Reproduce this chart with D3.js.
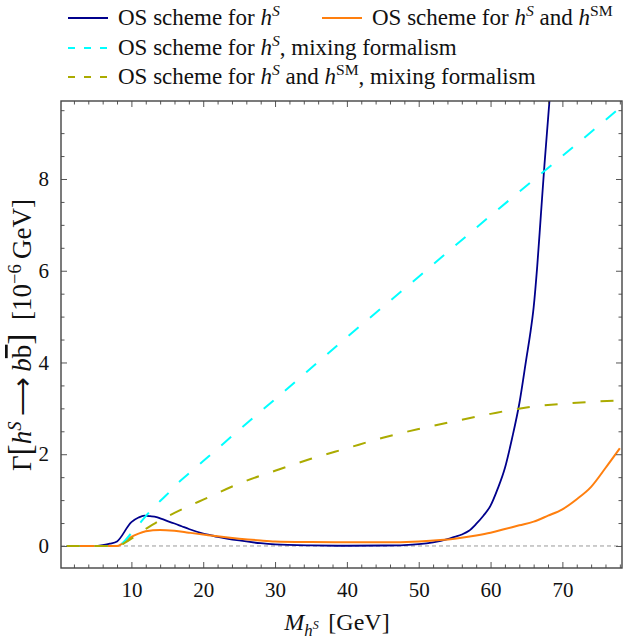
<!DOCTYPE html>
<html><head><meta charset="utf-8">
<script src="https://cdn.jsdelivr.net/npm/d3@7"></script>
<style>body{margin:0;background:#fff}</style>
</head><body>
<svg id="c" width="625" height="639"></svg>
<script>
// ---- data ----
const xTicks = [10, 20, 30, 40, 50, 60, 70];
const yTicks = [0, 2, 4, 6, 8];

const massBlue  = [1,3,5,6,7,8,10,11,11.8,12.6,13.5,14,16,17,18,20,21,22,25,28,30,35,40,45,48,50,52,54,55,56,57,58,59,60,61,62,63,64,65,65.5,66,66.5,67,67.5,68,68.5];
const gammaBlue = [0,0,0,0.02,0.05,0.1,0.52,0.62,0.66,0.65,0.63,0.6,0.49,0.43,0.37,0.27,0.235,0.2,0.12,0.06,0.035,0.012,0.005,0.01,0.02,0.04,0.08,0.15,0.2,0.25,0.33,0.48,0.66,0.88,1.25,1.7,2.35,3.1,4.1,4.6,5.2,6.1,7.2,8.3,9.3,10.3];

const massOrange  = [1,5,8,8.5,9,10,11,12,13,14,16,18,20,22,25,28,30,35,40,45,50,53,55,58,60,62,64,66,68,70,72,74,76,78];
const gammaOrange = [0,0,0,0.03,0.09,0.2,0.27,0.32,0.345,0.35,0.33,0.29,0.25,0.21,0.16,0.12,0.1,0.085,0.08,0.08,0.1,0.13,0.16,0.23,0.29,0.37,0.45,0.53,0.66,0.8,1.02,1.29,1.7,2.13];

const massCyan  = [1,8.2,9,10,11,12,13,14,15,16,18,20,25,30,40,50,60,70,78];
const gammaCyan = [0,0,0.1,0.28,0.46,0.65,0.82,0.98,1.13,1.3,1.58,1.85,2.53,3.2,4.55,5.87,7.2,8.5,9.55];

const massOlive  = [1,8.3,9,10,11,12,14,16,18,20,25,30,35,40,45,50,55,60,65,70,75,78];
const gammaOlive = [0,0,0.06,0.16,0.27,0.37,0.56,0.72,0.87,1.01,1.36,1.64,1.9,2.13,2.36,2.55,2.72,2.88,3.02,3.1,3.15,3.17];

const FONT = '"Liberation Serif"';

// ---- chart ----
const svg = d3.select("#c");
const L = 61, R = 622, T = 101, B = 568;
const x = d3.scaleLinear().domain([0.2, 78.3]).range([L, R]);
const y = d3.scaleLinear().domain([-0.48, 9.7]).range([B, T]);

svg.append("clipPath").attr("id","clip").append("rect")
  .attr("x",L).attr("y",T).attr("width",R-L).attr("height",B-T);

svg.append("line").attr("x1",L).attr("x2",R).attr("y1",y(0)).attr("y2",y(0))
  .attr("stroke","#9a9a9a").attr("stroke-width",1).attr("stroke-dasharray","4,3");

const series = [
  {m: massBlue,   g: gammaBlue,   color:"#00008c", dash:null, w:1.8},
  {m: massOrange, g: gammaOrange, color:"#ff7f0e", dash:null, w:2},
  {m: massCyan,   g: gammaCyan,   color:"#00ffff", dash:"13,15", w:2},
  {m: massOlive,  g: gammaOlive,  color:"#abab00", dash:"13,15", w:2}
];
const line = d3.line().x(d=>x(d[0])).y(d=>y(d[1])).curve(d3.curveMonotoneX);
const gp = svg.append("g").attr("clip-path","url(#clip)");
series.forEach(s=>{
  gp.append("path").datum(d3.zip(s.m, s.g)).attr("d", line)
    .attr("fill","none").attr("stroke", s.color).attr("stroke-width", s.w)
    .attr("stroke-dasharray", s.dash).attr("stroke-linejoin","round");
});

const xMinor = d3.range(2, 79, 2).filter(v=>v%10!==0);
const yMinor = d3.range(-0.5, 9.7, 0.5).filter(v=>v%2!==0 && v>-0.48);
const axB = d3.axisBottom(x).tickValues(xTicks).tickSize(-6).tickPadding(14).tickFormat(d3.format("d"));
const axT = d3.axisTop(x).tickValues(xTicks).tickSize(-6).tickFormat("");
const axL = d3.axisLeft(y).tickValues(yTicks).tickSize(-6).tickPadding(12).tickFormat(d3.format("d"));
const axRt = d3.axisRight(y).tickValues(yTicks).tickSize(-6).tickFormat("");
const mB = d3.axisBottom(x).tickValues(xMinor).tickSize(-3.5).tickFormat("");
const mT = d3.axisTop(x).tickValues(xMinor).tickSize(-3.5).tickFormat("");
const mL = d3.axisLeft(y).tickValues(yMinor).tickSize(-3.5).tickFormat("");
const mR = d3.axisRight(y).tickValues(yMinor).tickSize(-3.5).tickFormat("");
function put(ax, tr){
  const g = svg.append("g").attr("transform", tr).call(ax);
  g.select(".domain").remove();
  g.selectAll(".tick line").attr("stroke", "#555").attr("stroke-width", 1);
  g.selectAll(".tick text").attr("font-size", 21).attr("fill", "#111").attr("font-family", FONT);
  return g;
}
put(axB, `translate(0,${B})`); put(mB, `translate(0,${B})`);
put(axT, `translate(0,${T})`); put(mT, `translate(0,${T})`);
put(axL, `translate(${L},0)`); put(mL, `translate(${L},0)`);
put(axRt, `translate(${R},0)`); put(mR, `translate(${R},0)`);
svg.append("rect").attr("x",L).attr("y",T).attr("width",R-L).attr("height",B-T)
  .attr("fill","none").attr("stroke","#444").attr("stroke-width",1.4);

// ---- rich text helper ----
function rich(parent, parts, s){
  const t = parent.append("text").attr("font-size", s).attr("fill","#111").attr("font-family", FONT);
  let level = 0;
  parts.forEach(p=>{
    const [str, st] = p;
    const ts = t.append("tspan").text(str);
    let target = 0, size = s;
    if (st.includes("i")) ts.attr("font-style","italic");
    if (st==="s"||st==="is") { target = -0.38; size = s*0.68; }
    if (st==="ib") { target = 0.24; size = s*0.7; }
    if (st==="ibs") { target = -0.05; size = s*0.5; }
    if (st==="br") size = s*1.25;
    if (st==="ol") ts.style("text-decoration","overline");
    ts.attr("font-size", size);
    if (target !== level) { ts.attr("dy", (target-level)*s); level = target; }
  });
  return t;
}

// axis titles
rich(svg, [["M","i"],["h","ib"],["S","ibs"],["\u2009\u2009[GeV]",""]], 24)
  .attr("x",337).attr("y",630).attr("text-anchor","middle");

rich(svg, [["\u0393",""],["[","br"],["h","i"],["S","is"],["\u2009\u27F6\u2009",""],["b","i"],["b","ol"],["]","br"],["\u2002[10",""],["\u22126","s"],["\u2009GeV]",""]], 27)
  .attr("transform","translate(31,335) rotate(-90)").attr("text-anchor","middle");

// legend
const legend = [
  {color:"#00008c", dash:null, x:68, y:18, parts:[["OS scheme for ",""],["h","i"],["S","is"]]},
  {color:"#ff7f0e", dash:null, x:322, y:18, parts:[["OS scheme for ",""],["h","i"],["S","is"],[" and ",""],["h","i"],["SM","s"]]},
  {color:"#00ffff", dash:"7,9", x:68, y:48, parts:[["OS scheme for ",""],["h","i"],["S","is"],[", mixing formalism",""]]},
  {color:"#abab00", dash:"7,9", x:68, y:77, parts:[["OS scheme for ",""],["h","i"],["S","is"],[" and ",""],["h","i"],["SM","s"],[", mixing formalism",""]]}
];
legend.forEach(it=>{
  svg.append("line").attr("x1",it.x).attr("x2",it.x+40).attr("y1",it.y).attr("y2",it.y)
    .attr("stroke",it.color).attr("stroke-width",2).attr("stroke-dasharray",it.dash);
  rich(svg, it.parts, 23).attr("x", it.x+50).attr("y", it.y+7);
});
</script>
</body></html>
